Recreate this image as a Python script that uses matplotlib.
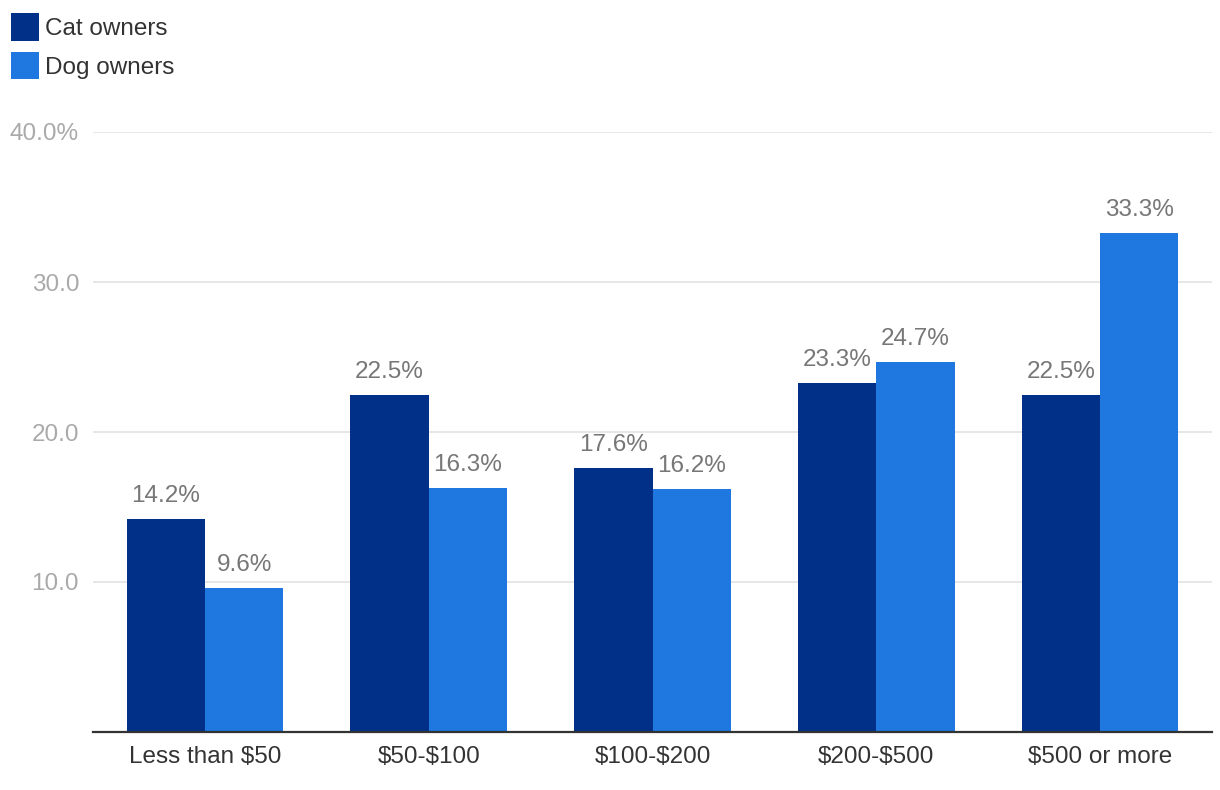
import numpy as np
import matplotlib.pyplot as plt
from matplotlib.patches import Patch

categories = ['Less than $50', '$50-$100', '$100-$200', '$200-$500', '$500 or more']
cat_owners = [14.2, 22.5, 17.6, 23.3, 22.5]
dog_owners = [9.6, 16.3, 16.2, 24.7, 33.3]
y_ticks = [10, 20, 30, 40]
y_tick_labels = ['10.0', '20.0', '30.0', '40.0%']

cat_color = '#003087'
dog_color = '#1f77e0'

plt.rcParams['font.family'] = ['Liberation Sans', 'DejaVu Sans']
plt.rcParams['text.parse_math'] = False

fig = plt.figure(figsize=(12.2, 7.9), dpi=100)
ax = fig.add_axes([93 / 1220, 1 - 732 / 790, 1119 / 1220, 600 / 790])

x = np.arange(len(categories))
w = 0.35
bars_cat = ax.bar(x - w / 2, cat_owners, w, color=cat_color, zorder=3)
bars_dog = ax.bar(x + w / 2, dog_owners, w, color=dog_color, zorder=3)

for bars in (bars_cat, bars_dog):
    for b in bars:
        h = b.get_height()
        ax.annotate(f'{h:.1f}%', (b.get_x() + b.get_width() / 2, h),
                    xytext=(0, 12), textcoords='offset points',
                    ha='center', va='baseline', fontsize=17.5, color='#777777')

ax.set_xlim(-0.5, len(categories) - 0.5)
ax.set_ylim(0, 40)
ax.set_yticks(y_ticks)
ax.set_yticklabels(y_tick_labels)
ax.set_xticks(x)
ax.set_xticklabels(categories)
ax.tick_params(axis='y', length=0, pad=10, labelsize=17.5, labelcolor='#aaaaaa')
ax.tick_params(axis='x', length=0, pad=10, labelsize=17.5, labelcolor='#333333')
ax.grid(axis='y', color='#e3e3e3', linewidth=1.2, zorder=0)

for s in ['top', 'right', 'left']:
    ax.spines[s].set_visible(False)
ax.spines['bottom'].set_color('#333333')
ax.spines['bottom'].set_linewidth(1.6)
ax.spines['bottom'].set_zorder(4)

handles = [Patch(facecolor=cat_color, edgecolor='none', label='Cat owners'),
           Patch(facecolor=dog_color, edgecolor='none', label='Dog owners')]
fig.legend(handles=handles, loc='upper left', bbox_to_anchor=(6 / 1220, 1 - 8 / 790),
           frameon=False, fontsize=17.5, handlelength=1.15, handleheight=1.38,
           handletextpad=0.25, labelspacing=0.45, borderaxespad=0, borderpad=0.2,
           labelcolor='#333333')

fig.savefig('out.png', dpi=100)
